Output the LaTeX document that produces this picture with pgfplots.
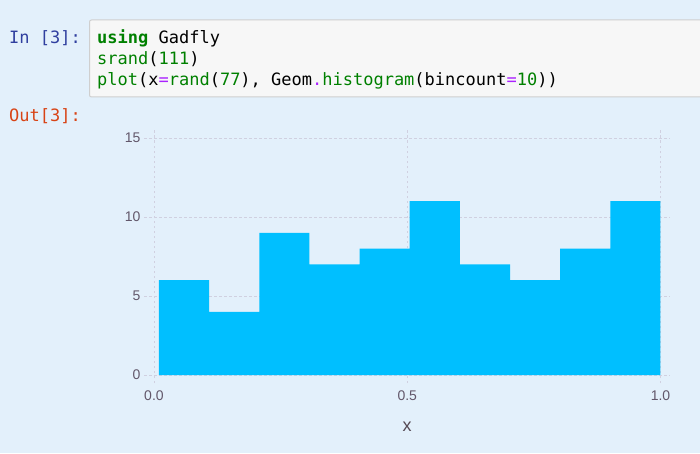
\documentclass[border=0pt]{standalone}
\usepackage{fontspec}
\usepackage{pgfplots}
\pgfplotsset{compat=1.18}
\setmainfont{Liberation Sans}
\newfontfamily\codefont{DejaVu Sans Mono}
\definecolor{nbbg}{HTML}{E3F0FB}
\definecolor{codebg}{HTML}{F7F7F7}
\definecolor{codeborder}{HTML}{CFCFCF}
\definecolor{inblue}{HTML}{303F9F}
\definecolor{outred}{HTML}{D84315}
\definecolor{kwgreen}{HTML}{008000}
\definecolor{oppurple}{HTML}{AA22FF}
\definecolor{barcol}{HTML}{00BFFF}
\definecolor{gridcol}{HTML}{D0D0E0}
\definecolor{labcol}{HTML}{62576A}
\definecolor{axlabcol}{HTML}{564A55}
\begin{document}
\begin{tikzpicture}[x=1pt,y=1pt]
\useasboundingbox (0pt,0pt) rectangle (700pt,453pt);
\fill[nbbg] (0pt,0pt) rectangle (700pt,453pt);
\begin{scope}
\clip (0pt,0pt) rectangle (700pt,453pt);
\draw[fill=codebg, draw=codeborder, line width=1pt, rounded corners=2pt] (89.5pt,356pt) rectangle (710pt,433pt);
\end{scope}
\node[anchor=base west, inner sep=0pt, font=\codefont\fontsize{17}{20}\selectfont, text=inblue] at (9pt,409pt) {In [3]:};
\node[anchor=base west, inner sep=0pt, font=\codefont\fontsize{17}{20}\selectfont, text=outred] at (9pt,331pt) {Out[3]:};
\node[anchor=base west, inner sep=0pt, font=\codefont\fontsize{17}{20}\selectfont] at (97pt,409pt) {\textcolor{kwgreen}{\bfseries using} Gadfly};
\node[anchor=base west, inner sep=0pt, font=\codefont\fontsize{17}{20}\selectfont] at (97pt,388pt) {\textcolor{kwgreen}{srand}(\textcolor{kwgreen}{111})};
\node[anchor=base west, inner sep=0pt, font=\codefont\fontsize{17}{20}\selectfont] at (97pt,367pt) {\textcolor{kwgreen}{plot}(x\textcolor{oppurple}{=}\textcolor{kwgreen}{rand}(\textcolor{kwgreen}{77}), Geom\textcolor{oppurple}{.}\textcolor{kwgreen}{histogram}(bincount\textcolor{oppurple}{=}\textcolor{kwgreen}{10}))};
\begin{axis}[
  at={(144pt,70pt)}, anchor=south west,
  scale only axis, width=526pt, height=254pt,
  xmin=-0.0197, xmax=1.0188, ymin=-0.506, ymax=15.57,
  xtick={0,0.5,1}, ytick={0,5,10,15},
  xticklabels={0.0,0.5,1.0}, yticklabels={0,5,10,15},
  grid=major,
  major grid style={draw=gridcol, dash pattern=on 2.5pt off 2.5pt, line width=0.8pt},
  axis line style={draw=none}, major tick length=0pt, tick style={draw=none},
  tick label style={font=\fontsize{14}{16}\selectfont, text=labcol},
  xticklabel style={yshift=-4.5pt},
  xlabel={x},
  xlabel style={at={(axis description cs:0.5,0)}, anchor=center, yshift=-43.7pt, font=\fontsize{18}{20}\selectfont, text=axlabcol},
  /pgf/number format/assume math mode=true,
]
\addplot[ybar interval, fill=barcol, draw=none] coordinates {
  (0.0099,6) (0.1089,4) (0.2079,9) (0.3069,7) (0.4059,8)
  (0.5049,11) (0.6039,7) (0.7029,6) (0.8019,8) (0.9009,11) (0.9999,11)
};
\end{axis}
\end{tikzpicture}
\end{document}
